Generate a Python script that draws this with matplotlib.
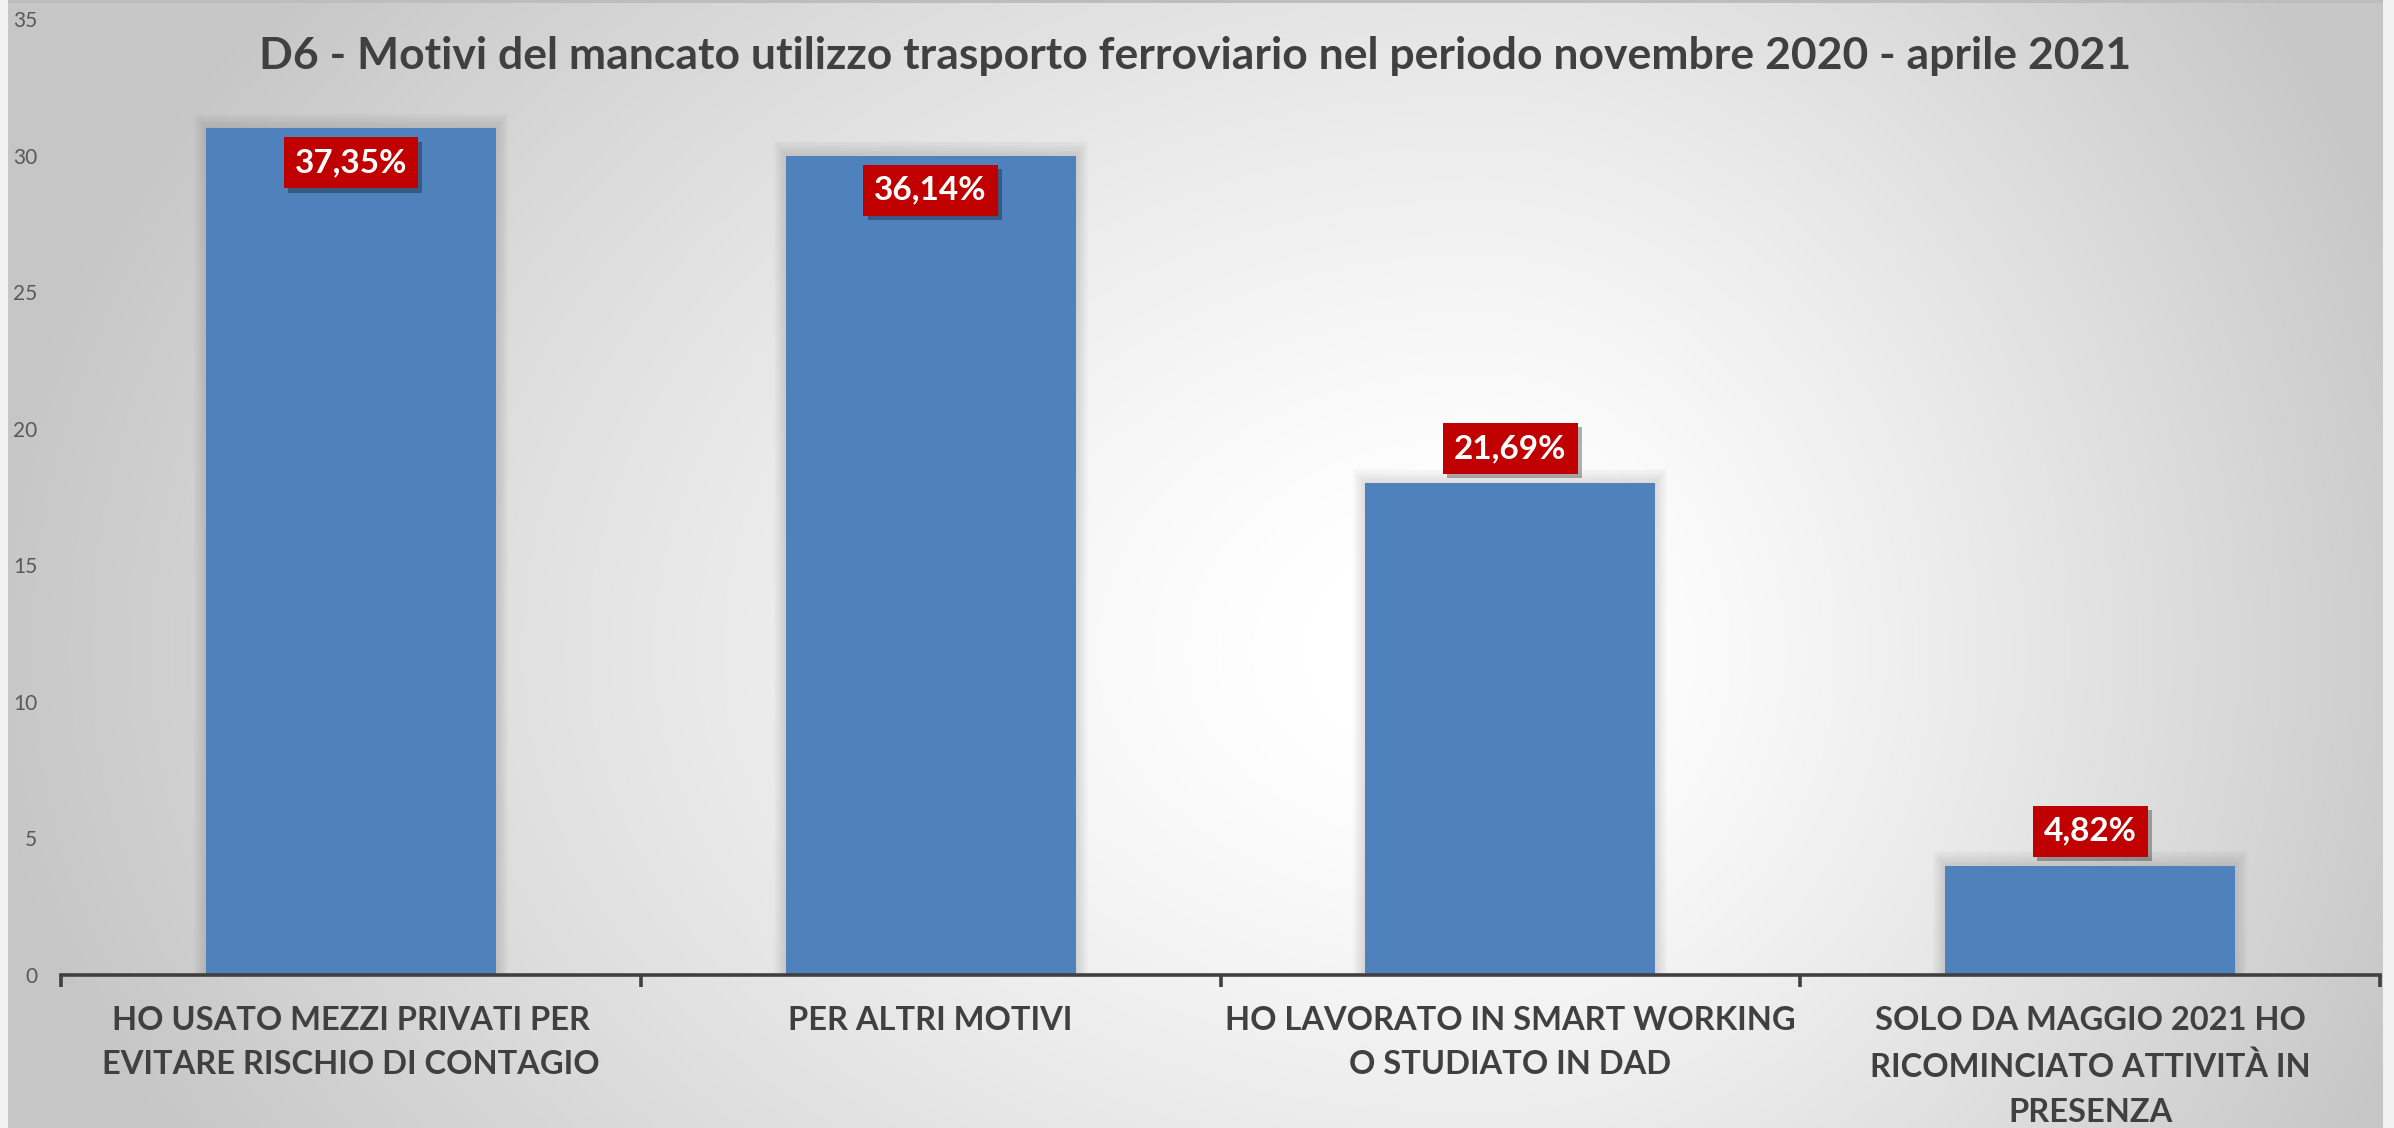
import numpy as np
import matplotlib
matplotlib.use('Agg')
import matplotlib.pyplot as plt
from matplotlib.patches import Rectangle

plt.rcParams['font.family'] = ['Lato', 'DejaVu Sans']

title = 'D6 - Motivi del mancato utilizzo trasporto ferroviario nel periodo novembre 2020 - aprile 2021'
categories = ['HO USATO MEZZI PRIVATI PER\nEVITARE RISCHIO DI CONTAGIO',
              'PER ALTRI MOTIVI',
              'HO LAVORATO IN SMART WORKING\nO STUDIATO IN DAD',
              'SOLO DA MAGGIO 2021 HO\nRICOMINCIATO ATTIVITÀ IN\nPRESENZA']
values = np.array([31, 30, 18, 4])
label_pos = ['inside', 'inside', 'outside', 'outside']
yticks = [0, 5, 10, 15, 20, 25, 30, 35]

W, H = 2394, 1128
fig = plt.figure(figsize=(W / 100, H / 100), dpi=100)
fig.patch.set_facecolor('#f2f2f2')

# sfondo con gradiente radiale
bg = fig.add_axes([0, 0, 1, 1])
bg.set_xlim(0, W)
bg.set_ylim(H, 0)
bg.axis('off')
yy, xx = np.mgrid[0:H:4, 0:W:4]
cx, cy = 1480, 650
rx = np.where(xx < cx, 1500.0, 1000.0)
ry = np.where(yy < cy, 1100.0, 1000.0)
r = np.sqrt(((xx - cx) / rx) ** 2 + ((yy - cy) / ry) ** 2)
g = 1 - 0.22 * np.clip((r - 0.12) / 0.88, 0, 1) ** 1.2
bg.imshow(np.dstack([g, g, g]), extent=(8, 2383, 1128, 2), interpolation='bilinear', aspect='auto')
bg.add_patch(Rectangle((8, 0), 2375, 3, color='#bdbdbd', lw=0))

ax = fig.add_axes([61 / W, (H - 975) / H, (2380 - 61) / W, (975 - 19) / H])
ax.set_facecolor('none')
x = np.arange(len(values))

# alone/ombra delle barre
for k in range(1, 7):
    ax.bar(x, values + k * 0.09, width=0.5 + k * 0.007, color='black', alpha=0.018, zorder=1, lw=0)
ax.bar(x, values, width=0.5, color='#4F81BD', zorder=2, lw=0)

ax.set_xlim(-0.5, 3.5)
ax.set_ylim(0, 35)
for s in ['left', 'right', 'top']:
    ax.spines[s].set_visible(False)
ax.spines['bottom'].set_color('#404040')
ax.spines['bottom'].set_linewidth(2.6)
ax.spines['bottom'].set_zorder(3)

ax.set_xticks(x)
ax.set_xticklabels(categories, fontsize=23.5, fontweight='bold', color='#404040', linespacing=1.66)
ax.set_xticks(np.arange(-0.5, 4, 1), minor=True)
ax.tick_params(axis='x', which='major', length=0, pad=22)
ax.tick_params(axis='x', which='minor', length=8.5, width=2.6, color='#404040', direction='out')
for lab in ax.get_xticklabels():
    lab.set_verticalalignment('top')

ax.set_yticks(yticks)
ax.set_yticklabels([str(t) for t in yticks], fontsize=15, color='#595959')
ax.tick_params(axis='y', length=0, pad=17)

# etichette percentuali
total = values.sum()
for i, (v, pos) in enumerate(zip(values, label_pos)):
    pct = '{:.2f}%'.format(v / total * 100).replace('.', ',')
    off = -25 if pos == 'inside' else 25
    ax.annotate(pct, (i, v), xytext=(3, off - 3), textcoords='offset points',
                ha='center', va='center', fontsize=24, fontweight='bold', color='none',
                bbox=dict(boxstyle='square,pad=0.33', fc='black', ec='none', alpha=0.3), zorder=4)
    ax.annotate(pct, (i, v), xytext=(0, off), textcoords='offset points',
                ha='center', va='center', fontsize=24, fontweight='bold', color='white',
                bbox=dict(boxstyle='square,pad=0.33', fc='#C00000', ec='none'), zorder=5)

fig.text(1195 / W, 1 - 56 / H, title, ha='center', va='center', fontsize=32,
         fontweight='bold', color='#404040')

fig.savefig('out.png', dpi=100)
